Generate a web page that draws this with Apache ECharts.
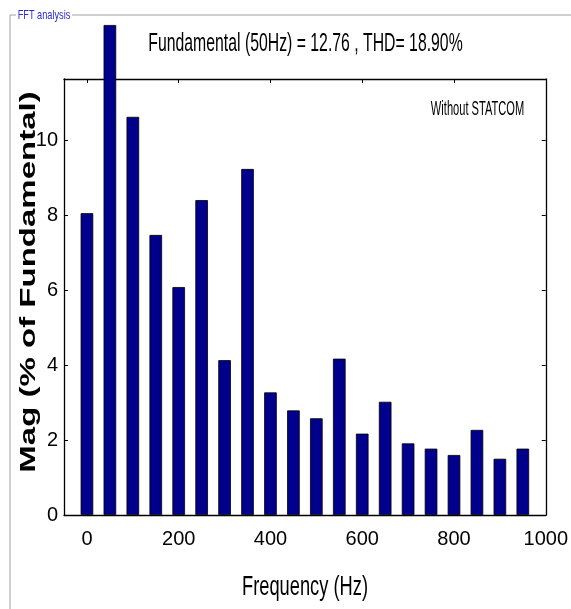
<!DOCTYPE html>
<html><head><meta charset="utf-8">
<script src="https://cdn.jsdelivr.net/npm/echarts@6/dist/echarts.min.js"></script>
<style>html,body{margin:0;padding:0;background:#fff}#c{width:571px;height:609px}</style>
</head><body><div id="c"></div>
<script>
// ---- data ----
const freqs = [0, 50, 100, 150, 200, 250, 300, 350, 400, 450, 500, 550, 600, 650, 700, 750, 800, 850, 900, 950];
const mags  = [8.05, 13.07, 10.62, 7.47, 6.08, 8.40, 4.13, 9.23, 3.27, 2.79, 2.58, 4.17, 2.17, 3.02, 1.91, 1.77, 1.60, 2.27, 1.50, 1.77];
const xTicks = [0, 200, 400, 600, 800, 1000];
const yTicks = [0, 2, 4, 6, 8, 10];
const titleText = 'Fundamental (50Hz) = 12.76 , THD= 18.90%';
const xName = 'Frequency (Hz)';
const yName = 'Mag (% of Fundamental)';
const noteText = 'Without STATCOM';
const panelText = 'FFT analysis';

const sans = "'Liberation Sans', Arial, sans-serif";
const axisLineStyle = { color: '#000', width: 1.3 };

const chart = echarts.init(document.getElementById('c'));
const tickIn = (vals) => ({ show: true, inside: true, length: 4, customValues: vals, lineStyle: { color: '#000', width: 1 } });

function txt(x, y, text, opts) {
  return Object.assign({
    type: 'text', x: x, y: y, silent: true,
    style: Object.assign({
      text: text, x: 0, y: 0, fill: '#000',
      align: 'center', verticalAlign: 'middle',
      textAlign: 'center', textVerticalAlign: 'middle',
      fontFamily: sans, fontSize: 16
    }, opts.style || {})
  }, opts.el || {});
}

chart.setOption({
  animation: false,
  backgroundColor: '#fff',
  grid: { left: 64, right: 21, top: 79, bottom: 94, containLabel: false },
  xAxis: [{
    type: 'value', min: -50, max: 1000, position: 'bottom',
    axisLine: { show: true, onZero: false, lineStyle: axisLineStyle },
    axisTick: tickIn(xTicks),
    axisLabel: { show: true, customValues: xTicks, margin: 14, color: '#000', fontFamily: sans, fontSize: 20, formatter: v => String(v) },
    splitLine: { show: false }
  }, {
    type: 'value', min: -50, max: 1000, position: 'top',
    axisLine: { show: true, onZero: false, lineStyle: axisLineStyle },
    axisTick: tickIn(xTicks),
    axisLabel: { show: false },
    splitLine: { show: false }
  }],
  yAxis: [{
    type: 'value', min: 0, max: 11.63, position: 'left',
    axisLine: { show: true, onZero: false, lineStyle: axisLineStyle },
    axisTick: tickIn(yTicks),
    axisLabel: { show: true, customValues: yTicks, margin: 6, color: '#000', fontFamily: sans, fontSize: 20, formatter: v => String(v) },
    splitLine: { show: false }
  }, {
    type: 'value', min: 0, max: 11.63, position: 'right',
    axisLine: { show: true, onZero: false, lineStyle: axisLineStyle },
    axisTick: tickIn(yTicks),
    axisLabel: { show: false },
    splitLine: { show: false }
  }],
  series: [{
    type: 'bar',
    xAxisIndex: 0, yAxisIndex: 0,
    clip: false,
    barWidth: 12.6,
    data: freqs.map((f, i) => [f, mags[i]]),
    itemStyle: { color: '#00008C', borderColor: '#000', borderWidth: 0.8 }
  }],
  graphic: [
    { type: 'line', silent: true, shape: { x1: 10, y1: 15, x2: 16, y2: 15 }, style: { stroke: '#a0a0a0', lineWidth: 1 } },
    { type: 'line', silent: true, shape: { x1: 72, y1: 15, x2: 571, y2: 15 }, style: { stroke: '#a0a0a0', lineWidth: 1 } },
    { type: 'line', silent: true, shape: { x1: 10, y1: 15, x2: 10, y2: 609 }, style: { stroke: '#a0a0a0', lineWidth: 1 } },
    txt(44, 16, panelText, { style: { fill: '#2a2ad8', fontSize: 9.2 }, el: { scaleY: 1.3 } }),
    txt(305.5, 44, titleText, { style: { fontSize: 15.8 }, el: { scaleY: 1.65 } }),
    txt(477.5, 109, noteText, { style: { fontSize: 11.1 }, el: { scaleY: 1.8 } }),
    txt(305, 587, xName, { style: { fontSize: 18.3 }, el: { scaleY: 1.5 } }),
    txt(29, 282, yName, { style: { fontSize: 22, fontWeight: 'bold' }, el: { rotation: Math.PI / 2, scaleX: 1.5 } })
  ]
});
</script>
</body></html>
